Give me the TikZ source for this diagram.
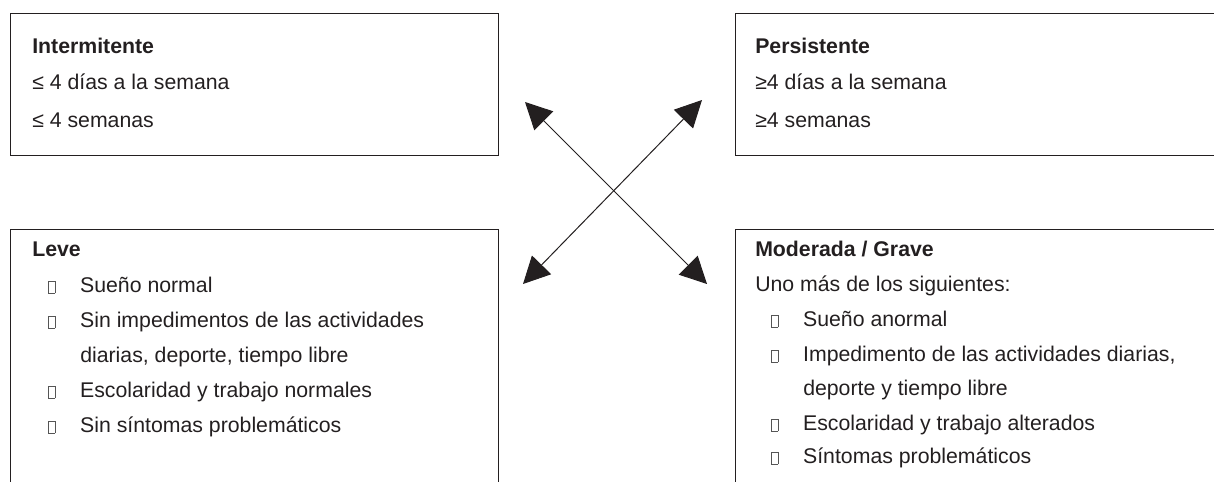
\documentclass[tikz,border=0pt]{standalone}
\usepackage{fontspec}
\setmainfont{Liberation Sans}
\usetikzlibrary{arrows.meta}
\definecolor{ink}{HTML}{231F20}
\definecolor{tofugray}{HTML}{555555}
\newcommand\tofu{\raisebox{-0.8pt}{{\color{tofugray}\fboxsep=0pt\fboxrule=0.6pt\fbox{\rule{0pt}{8.8pt}\rule{4.1pt}{0pt}}}}}
\tikzset{
  box/.style={draw=ink, line width=0.8pt, fill=none},
  txt/.style={anchor=base west, inner sep=0pt, text=ink, font=\fontsize{15.95pt}{18pt}\selectfont},
  ttl/.style={txt, font=\fontsize{15.95pt}{18pt}\selectfont\bfseries},
  arr/.style={draw=ink, line width=0.75pt, {Triangle[length=20pt,width=20pt]}-{Triangle[length=20pt,width=20pt]}},
}
\newcommand\bul[1]{\tofu\hspace{18.6pt}#1}
\begin{document}
\begin{tikzpicture}[x=0.75pt, y=-0.75pt]
\useasboundingbox (0,0) rectangle (1214,482);
\clip (0,0) rectangle (1214,482);
% boxes
\node[box, anchor=north west, minimum width=488*0.75pt, minimum height=142*0.75pt, inner sep=0pt] (bi) at (10,13) {};
\node[box, anchor=north west, minimum width=500*0.75pt, minimum height=142*0.75pt, inner sep=0pt] (bp) at (735,13) {};
\node[box, anchor=north west, minimum width=488*0.75pt, minimum height=280*0.75pt, inner sep=0pt] (bl) at (10,229) {};
\node[box, anchor=north west, minimum width=500*0.75pt, minimum height=280*0.75pt, inner sep=0pt] (bm) at (735,229) {};
% Intermitente
\node[ttl] (t1) at (32,53) {Intermitente};
\node[txt] (t1a) at (32,89) {≤ 4 días a la semana};
\node[txt] (t1b) at (32,127) {≤ 4 semanas};
% Persistente
\node[ttl] (t2) at (755,53) {Persistente};
\node[txt] (t2a) at (755,89) {≥4 días a la semana};
\node[txt] (t2b) at (755,127) {≥4 semanas};
% Leve
\node[ttl] (t3) at (32,256) {Leve};
\node[txt] (t3a) at (48,292) {\bul{Sueño normal}};
\node[txt] (t3b) at (48,327) {\bul{Sin impedimentos de las actividades}};
\node[txt] (t3c) at (80,362) {diarias, deporte, tiempo libre};
\node[txt] (t3d) at (48,397) {\bul{Escolaridad y trabajo normales}};
\node[txt] (t3e) at (48,432) {\bul{Sin síntomas problemáticos}};
% Moderada / Grave
\node[ttl] (t4) at (755,256) {Moderada / Grave};
\node[txt] (t4a) at (755,291) {Uno más de los siguientes:};
\node[txt] (t4b) at (771,326) {\bul{Sueño anormal}};
\node[txt] (t4c) at (771,361) {\bul{Impedimento de las actividades diarias,}};
\node[txt] (t4d) at (803,395) {deporte y tiempo libre};
\node[txt] (t4e) at (771,430) {\bul{Escolaridad y trabajo alterados}};
\node[txt] (t4f) at (771,463) {\bul{Síntomas problemáticos}};
% arrows
\coordinate (nw) at (525,102);
\coordinate (se) at (707,284);
\coordinate (ne) at (702,100);
\coordinate (sw) at (523,284);
\draw[arr] (nw) -- (se);
\draw[arr] (ne) -- (sw);
\end{tikzpicture}
\end{document}
